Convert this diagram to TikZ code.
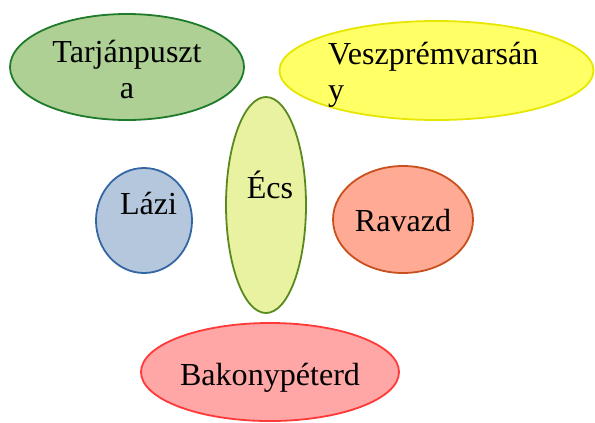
\documentclass[tikz,border=0pt]{standalone}
\usepackage{fontspec}
\setmainfont{Liberation Serif}
\usetikzlibrary{shapes.geometric}
\definecolor{tgfill}{HTML}{AFD095}
\definecolor{tgdraw}{HTML}{1E7B2A}
\definecolor{vyfill}{HTML}{FFFF66}
\definecolor{vydraw}{HTML}{E6E600}
\definecolor{ecfill}{HTML}{E8F2A1}
\definecolor{ecdraw}{HTML}{5A8A1E}
\definecolor{lzfill}{HTML}{B4C7DC}
\definecolor{lzdraw}{HTML}{3465A4}
\definecolor{rvfill}{HTML}{FFAA95}
\definecolor{rvdraw}{HTML}{C9501C}
\definecolor{bkfill}{HTML}{FFA6A6}
\definecolor{bkdraw}{HTML}{FF3838}
\tikzset{
  blob/.style={ellipse, inner sep=0pt, line width=1.8bp},
  lbl/.style={inner sep=0pt, font=\fontsize{32.2}{36.1}\selectfont, text=black}
}
\begin{document}
\begin{tikzpicture}[x=1bp,y=-1bp]
\useasboundingbox (0,0) rectangle (595,422);
\node[blob, draw=tgdraw, fill=tgfill, minimum width=234bp, minimum height=106bp] (tg) at (127,67) {};
\node[blob, draw=vydraw, fill=vyfill, minimum width=314bp, minimum height=99bp] (vy) at (436.5,70.5) {};
\node[blob, draw=ecdraw, fill=ecfill, minimum width=80bp, minimum height=216bp] (ec) at (266,205) {};
\node[blob, draw=lzdraw, fill=lzfill, minimum width=96bp, minimum height=105bp] (lz) at (144,220.5) {};
\node[blob, draw=rvdraw, fill=rvfill, minimum width=140bp, minimum height=107bp] (rv) at (403,219.5) {};
\node[blob, draw=bkdraw, fill=bkfill, minimum width=258bp, minimum height=98bp] (bk) at (270,372) {};
\node[lbl, anchor=base, align=center] (tgt) at (127,98) {Tarjánpuszt\\a};
\node[lbl, anchor=base west, align=left] (vyt) at (328,100) {Veszprémvarsán\\y};
\node[lbl, anchor=base] (ect) at (270,198) {Écs};
\node[lbl, anchor=base] (lzt) at (148.5,214) {Lázi};
\node[lbl, anchor=base] (rvt) at (403,231) {Ravazd};
\node[lbl, anchor=base] (bkt) at (270,385) {Bakonypéterd};
\end{tikzpicture}
\end{document}
